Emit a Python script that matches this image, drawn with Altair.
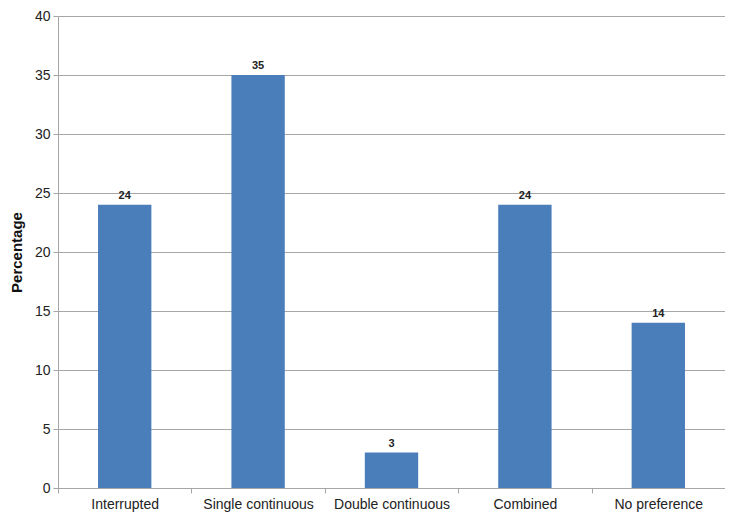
import altair as alt
import pandas as pd

categories = ["Interrupted", "Single continuous", "Double continuous", "Combined", "No preference"]
values = [24, 35, 3, 24, 14]

df = pd.DataFrame({"cat": categories, "val": values})

FONT = "Liberation Sans"
GRID = "#a6a6a6"

x = alt.X("cat:N", sort=categories, title=None,
          scale=alt.Scale(paddingInner=0, paddingOuter=0),
          axis=alt.Axis(labelAngle=0, tickBand="extent", domainColor=GRID, tickColor=GRID,
                        tickSize=5, labelPadding=4, labelFontSize=14, labelColor="#222222",
                        labelFont=FONT, grid=False))
y = alt.Y("val:Q", title="Percentage",
          scale=alt.Scale(domain=[0, 40]),
          axis=alt.Axis(values=[0, 5, 10, 15, 20, 25, 30, 35, 40], gridColor=GRID,
                        domainColor=GRID, tickColor=GRID, tickSize=5, labelPadding=3,
                        labelFontSize=14, labelColor="#222222", labelFont=FONT,
                        titleFont=FONT, titleFontSize=15, titleFontWeight="bold",
                        titleColor="#111111", titlePadding=10))

bars = alt.Chart(df).mark_bar(color="#4a7ebb", width=alt.RelativeBandSize(0.4)).encode(x=x, y=y)
labels = alt.Chart(df).mark_text(baseline="bottom", dy=-4, fontWeight="bold", fontSize=11,
                                  font=FONT, color="#222222").encode(
    x=alt.X("cat:N", sort=categories), y="val:Q", text="val:Q")

chart = (bars + labels).properties(
    width=667, height=472,
    autosize=alt.AutoSizeParams(type="none"),
    padding={"left": 50, "top": 8, "right": 0, "bottom": 24},
).configure_view(stroke=None).configure_axis(gridWidth=1, domainWidth=1)

chart.save("out.html", embed_options={"renderer": "svg", "actions": False})
